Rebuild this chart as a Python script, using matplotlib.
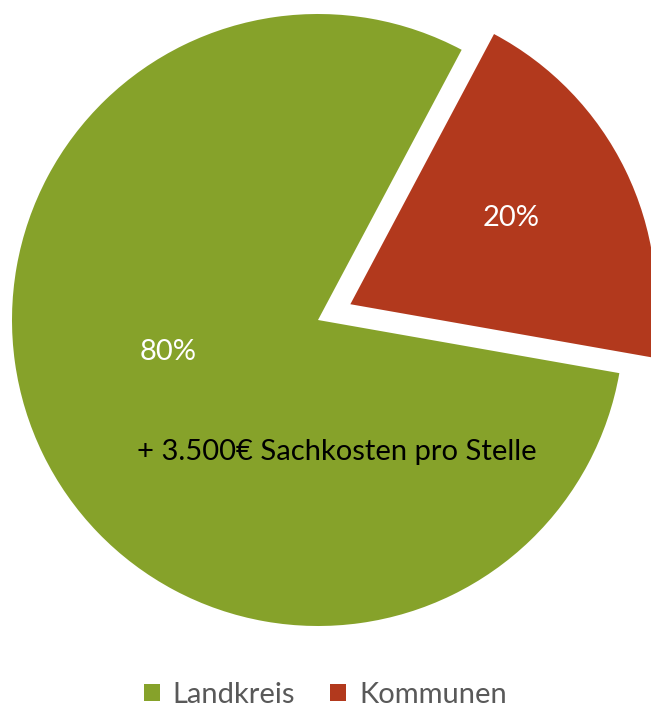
import numpy as np
import matplotlib.pyplot as plt

plt.rcParams['font.family'] = ['Lato', 'DejaVu Sans']

labels = ['Landkreis', 'Kommunen']
shares = [80, 20]
colors = ['#86A22A', '#B2391D']
note = '+ 3.500€ Sachkosten pro Stelle'

fig = plt.figure(figsize=(6.51, 7.08), dpi=100)
ax = fig.add_axes([0, 0, 1, 1])

# explode is in data units here (radius is in pixels)
wedges, texts, autotexts = ax.pie(
    shares, colors=colors, startangle=62, counterclock=True,
    explode=[0, 36], radius=306, center=(318, 388),
    autopct='%1.0f%%', pctdistance=0.55,
    textprops=dict(color='white', fontsize=21),
    wedgeprops=dict(linewidth=0),
)

# move labels to where they sit in the original
lbl_pos = [(168, 708 - 352), (511, 708 - 218)]
for t, p in zip(autotexts, lbl_pos):
    t.set_position(p)
    t.set_ha('center')
    t.set_va('center')

ax.text(337, 708 - 452, note, ha='center', va='center', fontsize=21, color='black')

ax.set_xlim(0, 651)
ax.set_ylim(0, 708)
ax.set_aspect('equal')
ax.axis('off')

leg = ax.legend(wedges, labels, loc='center', bbox_to_anchor=(0.5, 13 / 708),
                ncol=2, frameon=False, fontsize=21, handlelength=0.55,
                handleheight=0.55, handletextpad=0.45, columnspacing=1.2,
                labelcolor='#595959')

fig.savefig('out.png', dpi=100)
